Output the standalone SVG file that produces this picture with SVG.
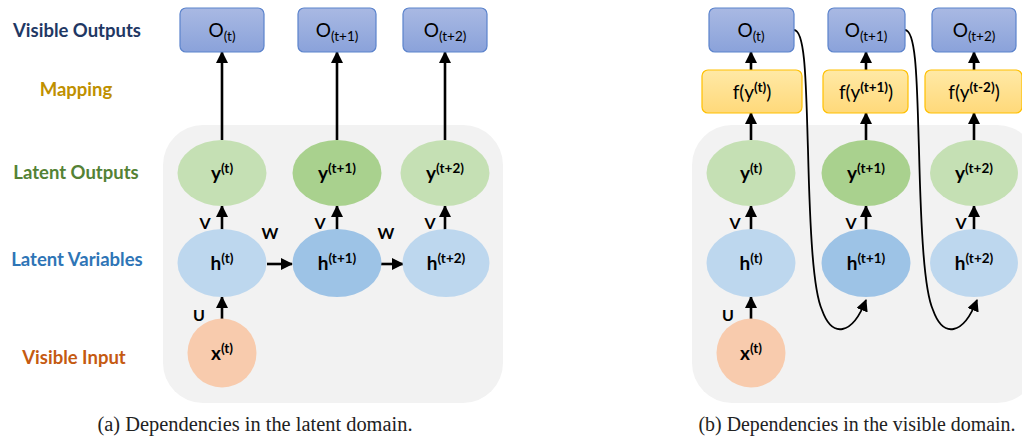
<svg xmlns="http://www.w3.org/2000/svg" width="1022" height="439" viewBox="0 0 1022 439">
<style>
.lbl{font-family:Lato,"Open Sans",sans-serif;font-weight:bold;font-size:18.5px;text-anchor:middle}
.nt{font-family:Lato,"Open Sans",sans-serif;font-size:19px;text-anchor:middle;fill:#000}
.bt{font-family:Lato,"Open Sans",sans-serif;font-weight:bold;font-size:19px;text-anchor:middle;fill:#000}
.sm{font-family:Lato,"Open Sans",sans-serif;font-weight:bold;font-size:16px;text-anchor:middle;fill:#000}
.cap{font-family:"Liberation Serif",serif;font-size:20px;text-anchor:middle;fill:#222}
.obox{fill:url(#gO);stroke:#5B83CC;stroke-width:1.2}
.fbox{fill:url(#gF);stroke:#FFC000;stroke-width:1.2}
.yl{fill:#C5E0B4}.yd{fill:#A9D18E}.hl{fill:#BDD7EE}.hd{fill:#9DC3E6}.xc{fill:#F8CBAD}
.ar{stroke:#000;stroke-width:2.6;fill:none;marker-end:url(#ah)}
.cv{stroke:#000;stroke-width:1.8;fill:none;marker-end:url(#ah)}
</style>
<defs>
<linearGradient id="gO" x1="0" y1="0" x2="0" y2="1"><stop offset="0" stop-color="#A9B9E3"/><stop offset="1" stop-color="#8AA2DA"/></linearGradient>
<linearGradient id="gF" x1="0" y1="0" x2="0" y2="1"><stop offset="0" stop-color="#FFE9A6"/><stop offset="1" stop-color="#FFD97A"/></linearGradient>
<marker id="ah" markerUnits="userSpaceOnUse" markerWidth="12" markerHeight="12" refX="11" refY="6" orient="auto"><path d="M0,0 L12,6 L0,12 z" fill="#000"/></marker>
</defs>
<rect width="1022" height="439" fill="#fff"/>

<g id="row-labels">
<text class="lbl" x="77" y="37" fill="#1F3864">Visible Outputs</text>
<text class="lbl" x="76" y="96" fill="#BF9000">Mapping</text>
<text class="lbl" x="76" y="179" fill="#548235">Latent Outputs</text>
<text class="lbl" x="77" y="266" fill="#2E75B6">Latent Variables</text>
<text class="lbl" x="74" y="364" fill="#C55A11">Visible Input</text>
</g>

<g id="panel-a-bg"><rect x="163" y="125" width="340" height="278" rx="40" fill="#F2F2F2"/></g>
<g id="panel-b-bg"><rect x="692" y="125" width="345" height="278" rx="40" fill="#F2F2F2"/></g>

<g id="connectors">
<line class="ar" x1="222" y1="140" x2="222" y2="52"/>
<line class="ar" x1="337" y1="140" x2="337" y2="52"/>
<line class="ar" x1="445" y1="140" x2="445" y2="52"/>
<line class="ar" x1="222" y1="230" x2="222" y2="206"/>
<line class="ar" x1="337" y1="230" x2="337" y2="206"/>
<line class="ar" x1="445" y1="230" x2="445" y2="206"/>
<line class="ar" x1="267" y1="264" x2="292" y2="264"/>
<line class="ar" x1="381" y1="264" x2="403" y2="264"/>
<line class="ar" x1="222" y1="320" x2="222" y2="297"/>
<line class="ar" x1="751" y1="70" x2="751" y2="52"/>
<line class="ar" x1="866" y1="70" x2="866" y2="52"/>
<line class="ar" x1="974" y1="70" x2="974" y2="52"/>
<line class="ar" x1="751" y1="140" x2="751" y2="113"/>
<line class="ar" x1="866" y1="140" x2="866" y2="113"/>
<line class="ar" x1="974" y1="140" x2="974" y2="113"/>
<line class="ar" x1="751" y1="230" x2="751" y2="206"/>
<line class="ar" x1="866" y1="230" x2="866" y2="206"/>
<line class="ar" x1="974" y1="230" x2="974" y2="206"/>
<line class="ar" x1="751" y1="320" x2="751" y2="297"/>
<path class="cv" d="M794,30 C806,30 806,90 808,150 C810,230 813,290 822,310 C832,338 852,336 866,300"/>
<path class="cv" d="M905,30 C917,30 917,90 919,150 C921,230 924,290 933,310 C943,338 963,336 977,300"/>
<text class="sm" x="205" y="229">V</text>
<text class="sm" x="320" y="229">V</text>
<text class="sm" x="430" y="229">V</text>
<text class="sm" x="270" y="239">W</text>
<text class="sm" x="386" y="239">W</text>
<text class="sm" x="199" y="321">U</text>
<text class="sm" x="735" y="229">V</text>
<text class="sm" x="851" y="229">V</text>
<text class="sm" x="961" y="229">V</text>
<text class="sm" x="728" y="321">U</text>
</g>

<g id="a-O-t"><rect class="obox" x="180" y="8" width="84" height="44" rx="6"/><text class="nt" x="222" y="37">O<tspan dy="4" font-size="13.5">(t)</tspan></text></g>
<g id="a-O-t1"><rect class="obox" x="298" y="8" width="78" height="44" rx="6"/><text class="nt" x="337" y="37">O<tspan dy="4" font-size="13.5">(t+1)</tspan></text></g>
<g id="a-O-t2"><rect class="obox" x="403" y="8" width="84" height="44" rx="6"/><text class="nt" x="445" y="37">O<tspan dy="4" font-size="13.5">(t+2)</tspan></text></g>

<g id="a-y-t"><ellipse class="yl" cx="222" cy="173" rx="44.5" ry="33"/><text class="bt" x="222" y="180">y<tspan dy="-7" font-size="13.5">(t)</tspan></text></g>
<g id="a-y-t1"><ellipse class="yd" cx="337" cy="173" rx="44.5" ry="33"/><text class="bt" x="337" y="180">y<tspan dy="-7" font-size="13.5">(t+1)</tspan></text></g>
<g id="a-y-t2"><ellipse class="yl" cx="445" cy="173" rx="44.5" ry="33"/><text class="bt" x="445" y="180">y<tspan dy="-7" font-size="13.5">(t+2)</tspan></text></g>

<g id="a-h-t"><ellipse class="hl" cx="222" cy="263" rx="44.5" ry="34"/><text class="bt" x="222" y="270">h<tspan dy="-7" font-size="13.5">(t)</tspan></text></g>
<g id="a-h-t1"><ellipse class="hd" cx="337" cy="263" rx="44.5" ry="34"/><text class="bt" x="337" y="270">h<tspan dy="-7" font-size="13.5">(t+1)</tspan></text></g>
<g id="a-h-t2"><ellipse class="hl" cx="446" cy="263" rx="43.5" ry="34"/><text class="bt" x="446" y="270">h<tspan dy="-7" font-size="13.5">(t+2)</tspan></text></g>

<g id="a-x-t"><circle class="xc" cx="222" cy="353" r="34.5"/><text class="bt" x="222" y="360">x<tspan dy="-7" font-size="13.5">(t)</tspan></text></g>

<g id="b-O-t"><rect class="obox" x="709" y="8" width="85" height="44" rx="6"/><text class="nt" x="751" y="37">O<tspan dy="4" font-size="13.5">(t)</tspan></text></g>
<g id="b-O-t1"><rect class="obox" x="828" y="8" width="77" height="44" rx="6"/><text class="nt" x="866" y="37">O<tspan dy="4" font-size="13.5">(t+1)</tspan></text></g>
<g id="b-O-t2"><rect class="obox" x="932" y="8" width="84" height="44" rx="6"/><text class="nt" x="974" y="37">O<tspan dy="4" font-size="13.5">(t+2)</tspan></text></g>

<g id="b-f-t"><rect class="fbox" x="702" y="70" width="100" height="43" rx="6"/><text class="nt" x="752" y="99">f(y<tspan dy="-7" font-size="13.5" font-weight="bold">(t)</tspan><tspan dy="7">)</tspan></text></g>
<g id="b-f-t1"><rect class="fbox" x="823" y="70" width="85" height="43" rx="6"/><text class="nt" x="866" y="99">f(y<tspan dy="-7" font-size="13.5" font-weight="bold">(t+1)</tspan><tspan dy="7">)</tspan></text></g>
<g id="b-f-t2"><rect class="fbox" x="925" y="70" width="97" height="43" rx="6"/><text class="nt" x="974" y="99">f(y<tspan dy="-7" font-size="13.5" font-weight="bold">(t-2)</tspan><tspan dy="7">)</tspan></text></g>

<g id="b-y-t"><ellipse class="yl" cx="751" cy="173" rx="44.5" ry="33"/><text class="bt" x="751" y="180">y<tspan dy="-7" font-size="13.5">(t)</tspan></text></g>
<g id="b-y-t1"><ellipse class="yd" cx="866" cy="173" rx="44.5" ry="33"/><text class="bt" x="866" y="180">y<tspan dy="-7" font-size="13.5">(t+1)</tspan></text></g>
<g id="b-y-t2"><ellipse class="yl" cx="974" cy="173" rx="44" ry="33"/><text class="bt" x="974" y="180">y<tspan dy="-7" font-size="13.5">(t+2)</tspan></text></g>

<g id="b-h-t"><ellipse class="hl" cx="751" cy="263" rx="44.5" ry="34"/><text class="bt" x="751" y="270">h<tspan dy="-7" font-size="13.5">(t)</tspan></text></g>
<g id="b-h-t1"><ellipse class="hd" cx="866" cy="263" rx="44.5" ry="34"/><text class="bt" x="866" y="270">h<tspan dy="-7" font-size="13.5">(t+1)</tspan></text></g>
<g id="b-h-t2"><ellipse class="hl" cx="974" cy="263" rx="44" ry="34"/><text class="bt" x="974" y="270">h<tspan dy="-7" font-size="13.5">(t+2)</tspan></text></g>

<g id="b-x-t"><circle class="xc" cx="751" cy="353" r="34.5"/><text class="bt" x="751" y="360">x<tspan dy="-7" font-size="13.5">(t)</tspan></text></g>

<g id="captions">
<text class="cap" x="255" y="431" textLength="315" lengthAdjust="spacingAndGlyphs">(a) Dependencies in the latent domain.</text>
<text class="cap" x="857" y="431" textLength="317" lengthAdjust="spacingAndGlyphs">(b) Dependencies in the visible domain.</text>
</g>
</svg>
